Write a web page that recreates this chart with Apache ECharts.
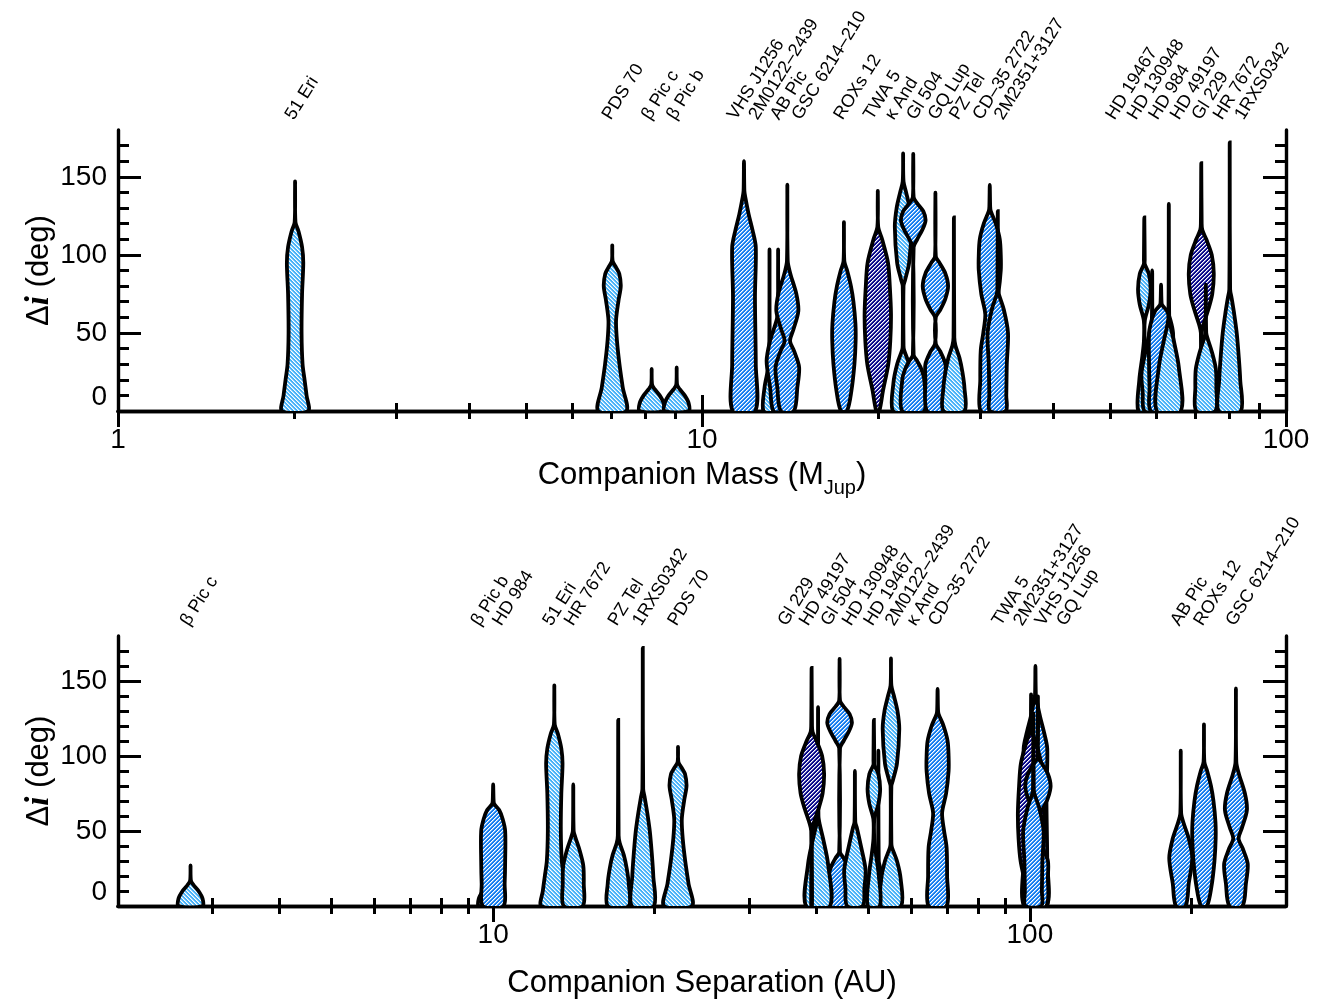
<!DOCTYPE html>
<html>
<head>
<meta charset="utf-8">
<script src="https://cdn.jsdelivr.net/npm/echarts@6/dist/echarts.min.js"></script>
<style>
  html, body { margin: 0; padding: 0; background: #fff; }
  #chart { width: 1324px; height: 1000px; }
</style>
</head>
<body>
<div id="chart"></div>
<script>
// ---- Companions ----------------------------------------------------------
const names = ['51 Eri', 'PDS 70', 'β Pic c', 'β Pic b', 'VHS J1256', '2M0122–2439',
  'AB Pic', 'GSC 6214–210', 'ROXs 12', 'TWA 5', 'κ And', 'Gl 504', 'GQ Lup', 'PZ Tel',
  'CD–35 2722', '2M2351+3127', 'HD 19467', 'HD 130948', 'HD 984', 'HD 49197',
  'Gl 229', 'HR 7672', '1RXS0342'];

// Companion mass (M_Jup)
const masses = [2.01, 7.02, 8.2, 9.05, 11.8, 13.05, 13.5, 14.0, 17.5, 20.0, 22.1, 23.0,
  25.1, 27.0, 31.1, 32.1, 57.2, 59.0, 61.1, 63.0, 71.6, 72.9, 80.1];

// Projected separation (AU)
const separations = [13.0, 22.1, 2.73, 9.9, 102.4, 52.2, 191, 242, 211, 100.5, 55.1, 44.2,
  103.5, 17.1, 67.3, 101.5, 51.2, 47.2, 10.0, 40.3, 39.2, 14.1, 19.0];

// Hatch class of each posterior
const hatchClass = ['light', 'light', 'light', 'light', 'medium', 'light', 'medium', 'medium',
  'medium', 'navy', 'light', 'medium', 'medium', 'light', 'medium', 'medium', 'light', 'light',
  'medium', 'light', 'navy', 'light', 'light'];

// Upper end of each Δi posterior (deg)
const upperLimit = [147, 106, 27, 28, 160, 103.5, 103.5, 145, 121, 141, 165, 164.7,
  139.8, 124, 144.8, 128, 124, 90, 81, 132.6, 158.7, 81, 172];

// Posterior density of Δi: [Δi (deg), density] knots
const densities = [
  [[0, 13], [10, 11.5], [20, 9.5], [30, 7.5], [50, 6.5], [75, 7], [95, 8.2], [105, 7], [115, 3.5], [121, 0.4]],
  [[0, 14], [15, 10.5], [30, 7.2], [45, 4.7], [58, 3.8], [71, 6.3], [80, 8.5], [88, 7], [92, 3.8], [96, 0.4]],
  [[0, 12], [5, 12], [10, 8], [14, 3], [17, 0.4]],
  [[0, 12], [5, 12], [10, 8], [14, 3], [17, 0.4]],
  [[0, 11.3], [30, 11.8], [73, 11], [105, 11.8], [116, 8.5], [126, 4.7], [137, 1.3], [141, 0.4]],
  [[0, 6], [15, 5], [25, 2], [30, 0.4]],
  [[0, 4.8], [15, 8], [32, 11.5], [45, 8], [55, 3], [62, 0.4]],
  [[0, 6.5], [15, 10], [28, 11.8], [38, 7], [45, 2.7], [52, 6], [64, 11], [75, 9], [88, 3], [96, 0.4]],
  [[0, 3], [13, 7.5], [30, 10.5], [45, 11.7], [56, 11.5], [70, 9.5], [80, 7], [90, 3.2], [96, 0.4]],
  [[0, 1.5], [13, 5.2], [30, 10.5], [45, 12.5], [62, 13.2], [80, 12], [95, 10.2], [110, 4.3], [118, 0.4]],
  [[0, 10], [18, 9.7], [30, 6], [39, 1], [42, 0.4], [80, 0.4], [84, 2], [95, 6], [118, 8.3], [130, 6.5], [140, 3], [147, 0.4]],
  [[0, 11], [20, 11], [27, 8], [32, 4], [36, 0.4], [105, 0.4], [110, 4], [116, 9], [122, 12.3], [128, 10], [133, 4], [137, 0.4]],
  [[0, 8.5], [20, 10], [30, 10], [38, 5], [43, 0.4], [60, 0.4], [65, 5], [72, 10], [80, 12.7], [88, 10], [95, 4], [99, 0.4]],
  [[0, 10.5], [15, 10.5], [25, 8.5], [34, 5.6], [42, 1.5], [47, 0.4]],
  [[0, 9], [20, 9.5], [39, 9], [50, 6.5], [62, 4.5], [75, 8.5], [90, 11], [100, 11], [110, 10], [120, 6], [128, 1], [131, 0.4]],
  [[0, 8], [10, 8.5], [30, 9], [50, 10.2], [65, 6], [75, 1], [78, 0.4]],
  [[0, 6], [20, 5], [35, 2], [45, 0.4], [58, 0.5], [68, 4.5], [78, 6.3], [88, 4.5], [94, 0.5], [97, 0.4]],
  [[0, 7.7], [12, 9.5], [24, 10.7], [40, 6], [52, 2], [56, 0.4]],
  [[0, 10.3], [15, 11.5], [30, 12], [50, 12], [58, 9.5], [64, 6], [68, 1], [71, 0.4]],
  [[0, 12], [28, 10], [45, 5], [54, 1.8], [60, 0.4]],
  [[0, 0.4], [50, 0.4], [55, 2], [65, 7], [75, 11], [88, 12.5], [100, 10.5], [110, 5], [116, 1], [120, 0.4]],
  [[0, 9.5], [15, 10.5], [27, 10], [38, 6], [46, 2], [50, 0.4]],
  [[0, 11], [20, 10.5], [35, 9], [50, 7], [62, 4.5], [72, 2], [78, 0.4]]
];

// Axis ticks
const massMajorTicks = [1, 10, 100];
const massMinorTicks = [2, 3, 4, 5, 6, 7, 8, 9, 20, 30, 40, 50, 60, 70, 80, 90];
const sepMajorTicks = [10, 100];
const sepMinorTicks = [3, 4, 5, 6, 7, 8, 9, 20, 30, 40, 50, 60, 70, 80, 90, 200];
const inclMajorTicks = [0, 50, 100, 150];
const inclMinorTicks = [10, 20, 30, 40, 60, 70, 80, 90, 110, 120, 130, 140, 160, 170];

// ---- Drawing helpers ------------------------------------------------------
const SANS = '"Liberation Sans", Arial, Helvetica, sans-serif';
const HALF_WIDTH_PER_DENSITY = 1.0;   // px of half-width per density unit
const LABEL_GAP = 21.5;               // minimum spacing of the slanted names
const LABEL_SHIFT = 2;
const LABEL_ANGLE = 58 * Math.PI / 180;

function mix(hex, t) {
  const n = parseInt(hex.slice(1), 16);
  const ch = [(n >> 16) & 255, (n >> 8) & 255, n & 255].map(v => Math.round(v + (255 - v) * t));
  return 'rgb(' + ch.join(',') + ')';
}

// Pixel-exact diagonal stripes: white lines with a soft edge over the base colour
function hatchPattern(base, dir) {
  const s = 4;
  const c = document.createElement('canvas');
  c.width = s; c.height = s;
  const g = c.getContext('2d');
  for (let y = 0; y < s; y++) {
    for (let x = 0; x < s; x++) {
      const k = dir === '/' ? (x + y) % s : (x - y + s) % s;
      g.fillStyle = k === 0 ? '#ffffff' : (k === 1 ? mix(base, 0.5) : base);
      g.fillRect(x, y, 1, 1);
    }
  }
  return { image: c, repeat: 'repeat' };
}

const fills = {
  light: hatchPattern('#48b2f8', '\\'),
  medium: hatchPattern('#137df0', '/'),
  navy: hatchPattern('#08088a', '/')
};

function violinRenderer(xValues) {
  return function (params, api) {
    const i = params.dataIndex;
    const xc = api.coord([xValues[i], 0])[0];
    const prof = densities[i];
    const left = [], right = [];
    for (let k = 0; k < prof.length; k++) {
      const y = api.coord([xValues[i], prof[k][0]])[1];
      const w = prof[k][1] * HALF_WIDTH_PER_DENSITY;
      left.push([xc - w, y]);
      right.push([xc + w, y]);
    }
    const yTop = api.coord([xValues[i], upperLimit[i]])[1];
    const points = left.concat([[xc, yTop]], right.reverse());
    return {
      type: 'polygon',
      shape: { points: points, smooth: 0.3 },
      style: { fill: fills[hatchClass[i]], stroke: '#000', lineWidth: 3.8, lineJoin: 'miter' }
    };
  };
}

// Spread neighbouring names apart, keeping each crowded group centred on its members
function spreadLabels(xs, gap) {
  const order = xs.map((x, i) => i).sort((a, b) => xs[a] - xs[b]);
  let groups = order.map(i => ({ members: [i], sum: xs[i], start: xs[i] }));
  let changed = true;
  while (changed) {
    changed = false;
    for (let k = 0; k < groups.length - 1; k++) {
      const a = groups[k], b = groups[k + 1];
      const aEnd = a.start + (a.members.length - 1) * gap;
      if (b.start - aEnd < gap) {
        const members = a.members.concat(b.members);
        const sum = a.sum + b.sum;
        const n = members.length;
        groups.splice(k, 2, { members: members, sum: sum, start: sum / n - (n - 1) * gap / 2 });
        changed = true;
        break;
      }
    }
  }
  const out = new Array(xs.length);
  groups.forEach(g => g.members.forEach((m, j) => { out[m] = g.start + j * gap; }));
  return out;
}

function nameRenderer(xValues) {
  return function (params, api) {
    const i = params.dataIndex;
    const xs = xValues.map(v => api.coord([v, 180])[0]);
    const pos = spreadLabels(xs, LABEL_GAP);
    const yTop = api.coord([xValues[i], 180])[1];
    return {
      type: 'text',
      x: pos[i] + LABEL_SHIFT,
      y: yTop - 7,
      rotation: LABEL_ANGLE,
      style: {
        text: names[i],
        fill: '#000',
        fontSize: 18,
        fontFamily: SANS,
        align: 'left',
        verticalAlign: 'bottom'
      }
    };
  };
}

// ---- Axes -----------------------------------------------------------------
const tickStyle = { color: '#000', width: 3 };

function xAxesFor(gridIndex, min, max, majors, minors, title, gap) {
  const base = { type: 'log', logBase: 10, gridIndex: gridIndex, min: min, max: max,
    splitLine: { show: false }, minorTick: { show: false }, minorSplitLine: { show: false } };
  return [
    Object.assign({}, base, {
      position: 'bottom',
      axisLine: { show: true, lineStyle: { color: '#000', width: 3.4 } },
      axisTick: { show: true, inside: true, length: 16, customValues: majors, lineStyle: tickStyle },
      axisLabel: { show: true, customValues: majors, color: '#000', fontSize: 28, fontFamily: SANS, margin: 15 },
      name: title, nameLocation: 'middle', nameGap: gap,
      nameTextStyle: { color: '#000', fontSize: 31, fontFamily: SANS,
        rich: { sub: { fontSize: 20, fontFamily: SANS, color: '#000', lineHeight: 46, verticalAlign: 'bottom' } } }
    }),
    Object.assign({}, base, {
      position: 'bottom',
      axisLine: { show: false },
      axisTick: { show: true, inside: true, length: 8, customValues: minors, lineStyle: tickStyle },
      axisLabel: { show: false }
    }),
    Object.assign({}, base, {
      position: 'top',
      axisLine: { show: true, lineStyle: { color: '#000', width: 3.4 } },
      axisTick: { show: true, inside: true, length: 16, customValues: majors, lineStyle: tickStyle },
      axisLabel: { show: false }
    }),
    Object.assign({}, base, {
      position: 'top',
      axisLine: { show: false },
      axisTick: { show: true, inside: true, length: 8, customValues: minors, lineStyle: tickStyle },
      axisLabel: { show: false }
    })
  ];
}

function yAxesFor(gridIndex) {
  const base = { type: 'value', gridIndex: gridIndex, min: 0, max: 180, interval: 10,
    splitLine: { show: false } };
  return [
    Object.assign({}, base, {
      position: 'left',
      axisLine: { show: true, lineStyle: { color: '#000', width: 3.4 } },
      axisTick: { show: true, inside: true, length: 23, customValues: inclMajorTicks, lineStyle: tickStyle },
      axisLabel: { show: true, customValues: inclMajorTicks, color: '#000', fontSize: 28, fontFamily: SANS,
        margin: 11, verticalAlignMinLabel: 'bottom' },
      name: '{g|Δ}{i|i}{n| (deg)}', nameLocation: 'middle', nameGap: 62, nameRotate: 90,
      nameMoveOverlap: false,
      nameTextStyle: { color: '#000', rich: {
        g: { fontSize: 31, fontFamily: SANS, color: '#000' },
        i: { fontSize: 33, fontFamily: '"Liberation Serif", "DejaVu Serif", serif', fontStyle: 'italic', fontWeight: 'bold', color: '#000' },
        n: { fontSize: 31, fontFamily: SANS, color: '#000' } } }
    }),
    Object.assign({}, base, {
      position: 'left',
      axisLine: { show: false },
      axisTick: { show: true, inside: true, length: 11, customValues: inclMinorTicks, lineStyle: tickStyle },
      axisLabel: { show: false }
    }),
    Object.assign({}, base, {
      position: 'right',
      axisLine: { show: true, lineStyle: { color: '#000', width: 3.4 } },
      axisTick: { show: true, inside: true, length: 23, customValues: inclMajorTicks, lineStyle: tickStyle },
      axisLabel: { show: false }
    }),
    Object.assign({}, base, {
      position: 'right',
      axisLine: { show: false },
      axisTick: { show: true, inside: true, length: 11, customValues: inclMinorTicks, lineStyle: tickStyle },
      axisLabel: { show: false }
    })
  ];
}

const xAxis = xAxesFor(0, 1, 100, massMajorTicks, massMinorTicks, 'Companion Mass (M{sub|Jup})', 41)
  .concat(xAxesFor(1, 2, 300, sepMajorTicks, sepMinorTicks, 'Companion Separation (AU)', 62));
const yAxis = yAxesFor(0).concat(yAxesFor(1));

const massPoints = masses.map(m => [m, 0]);
const sepPoints = separations.map(s => [s, 0]);

const option = {
  animation: false,
  backgroundColor: '#ffffff',
  grid: [
    { left: 118, right: 38, top: 130, height: 281 },
    { left: 118, right: 38, top: 636, height: 281 }
  ],
  xAxis: xAxis,
  yAxis: yAxis,
  series: [
    { type: 'custom', name: 'mass violins', coordinateSystem: 'cartesian2d', xAxisIndex: 0, yAxisIndex: 0,
      clip: true, silent: true, renderItem: violinRenderer(masses), data: massPoints, z: 2 },
    { type: 'custom', name: 'mass names', coordinateSystem: 'cartesian2d', xAxisIndex: 0, yAxisIndex: 0,
      clip: false, silent: true, renderItem: nameRenderer(masses), data: massPoints, z: 3 },
    { type: 'custom', name: 'separation violins', coordinateSystem: 'cartesian2d', xAxisIndex: 4, yAxisIndex: 4,
      clip: true, silent: true, renderItem: violinRenderer(separations), data: sepPoints, z: 2 },
    { type: 'custom', name: 'separation names', coordinateSystem: 'cartesian2d', xAxisIndex: 4, yAxisIndex: 4,
      clip: false, silent: true, renderItem: nameRenderer(separations), data: sepPoints, z: 3 }
  ]
};

const chart = echarts.init(document.getElementById('chart'), null, { renderer: 'canvas' });
chart.setOption(option);
</script>
</body>
</html>
